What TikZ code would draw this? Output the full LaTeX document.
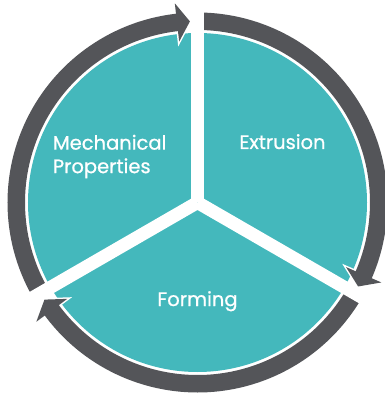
\documentclass[tikz,border=0pt]{standalone}
\usepackage{fontspec}
\setmainfont{Poppins}[FakeBold=0.8]
\usetikzlibrary{calc}
\definecolor{cycleteal}{RGB}{68,184,188}
\definecolor{cyclegrey}{RGB}{84,85,89}

\begin{document}
\begin{tikzpicture}[x=1pt, y=1pt,
	label text/.style={text=white, font=\fontsize{19.5}{23.5}\selectfont, inner sep=0pt},
	ring arc/.style={cyclegrey, line width=17.5pt},
	gap band/.style={white, line width=13pt}]
				\pgfmathsetmacro{\rdisk}{169.5}
				\pgfmathsetmacro{\rring}{181.25}
				\useasboundingbox (-197.5,-192.5) rectangle (186.5,202.5);
				\fill[cycleteal] (0,0) circle (\rdisk);
				% white rim round the arrow heads
				\foreach \g in {90,-30,210} {
					\filldraw[white, line width=3pt, line join=miter] (\g+6.5:200.5) -- (\g+2.4:\rring) -- (\g+6.5:162) -- cycle;
				}
				% grey arcs
				\foreach \g in {90,-30,210} {
					\draw[ring arc] (\g:\rring) arc (\g:\g-114.5:\rring);
				}
				% white gaps between the parts
				\foreach \g in {90,-30,210} {
					\draw[gap band] (0,0) -- (\g:205);
				}
				% arrow heads
				\foreach \g in {90,-30,210} {
					\fill[cyclegrey] (\g+6.5:200.5) -- (\g+2.4:\rring) -- (\g+6.5:162) -- cycle;
				}
				\node[label text, anchor=base] (extrusion) at (85,53.5) {Extrusion};
				\node[label text, anchor=base] (forming) at (0,-103.5) {Forming};
				\node[label text, anchor=west, align=left] (mechanical) at (-144.8,46) {Mechanical\\Properties};
\end{tikzpicture}
\end{document}
